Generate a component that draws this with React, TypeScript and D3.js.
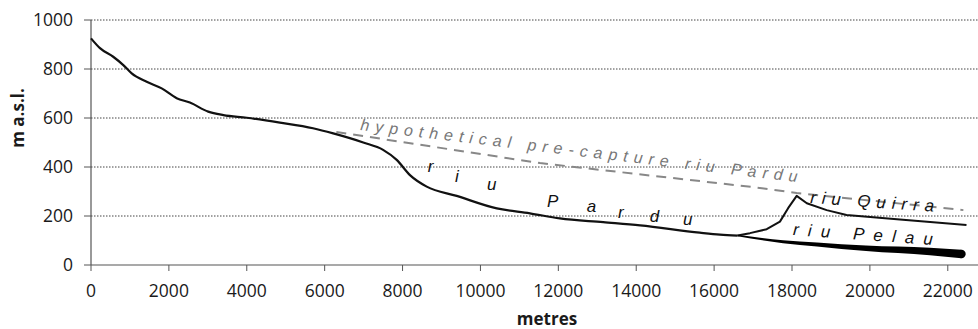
import React from 'react';
import * as d3 from 'd3';

// main profile (riu Pardu), metres vs m a.s.l.
const parduX = [0, 230, 570, 830, 1045, 1430, 1815, 2200, 2540, 3010, 3400, 4000, 4850, 5700, 6220, 6990, 7500, 7850, 8190, 8620, 9390, 10420, 11270, 12040, 13150, 14100, 15630, 16150, 16600];
const parduY = [925, 885, 850, 816, 782, 748, 721, 681, 663, 626, 612, 601, 581, 558, 537, 500, 470, 429, 367, 320, 282, 231, 211, 190, 175, 162, 132, 124, 120];

const quirraX = [16600, 16920, 17350, 17690, 17900, 18120, 18380, 18890, 19400, 20770, 22480];
const quirraY = [120, 130, 146, 177, 232, 282, 252, 224, 204, 186, 163];

const pelauX = [16600, 17770, 18640, 19900, 21540, 22350];
const pelauY = [120, 95, 84, 68, 55, 45];

const hypoX = [6300, 11530, 17000, 18120, 22400];
const hypoY = [543, 416, 318, 294, 224];

const xTicks = [0, 2000, 4000, 6000, 8000, 10000, 12000, 14000, 16000, 18000, 20000, 22000];
const yTicks = [0, 200, 400, 600, 800, 1000];

// letters of "riu Pardu" spread along the river
const pardLetters = ['r', 'i', 'u', 'P', 'a', 'r', 'd', 'u'];
const pardLetterX = [8650, 9345, 10170, 11710, 12730, 13530, 14350, 15200];
const pardLetterY = [380, 339, 306, 237, 216, 192, 176, 163];

const W = 978;
const H = 329;

const zip = (xs: number[], ys: number[]) => xs.map((x, i) => [x, ys[i]] as [number, number]);

export default function App() {
  const x = d3.scaleLinear().domain([0, 22750]).range([91, 977]);
  const y = d3.scaleLinear().domain([0, 1000]).range([265, 20]);

  const line = d3
    .line<[number, number]>()
    .x((d) => x(d[0]))
    .y((d) => y(d[1]));
  const smooth = d3
    .line<[number, number]>()
    .x((d) => x(d[0]))
    .y((d) => y(d[1]))
    .curve(d3.curveMonotoneX);

  // Pelau drawn as a tapering band
  const width = d3.scaleLinear().domain([16600, 22350]).range([1.5, 8.5]);
  const pelauArea = d3
    .area<[number, number]>()
    .x((d) => x(d[0]))
    .y0((d) => y(d[1]) - width(d[0]) / 2)
    .y1((d) => y(d[1]) + width(d[0]) / 2)
    .curve(d3.curveMonotoneX);
  const pelau = zip(pelauX, pelauY);
  const pelauEnd = pelau[pelau.length - 1];

  const tickFont = '"Open Sans", sans-serif';
  const annFont = '"Liberation Sans", Arial, sans-serif';

  return (
    <svg width={W} height={H} style={{ position: 'absolute', left: 0, top: 0, background: '#fff' }}>
      {/* grid */}
      {yTicks.filter((t) => t > 0).map((t) => (
        <line key={t} x1={x(0)} x2={W} y1={y(t)} y2={y(t)} stroke="#444" strokeWidth={1} strokeDasharray="1.5,1.5" />
      ))}

      {/* axes */}
      <line x1={x(0)} x2={x(0)} y1={y(1000)} y2={y(0)} stroke="#555" strokeWidth={1.2} />
      <line x1={x(0)} x2={W} y1={y(0)} y2={y(0)} stroke="#555" strokeWidth={1.2} />
      {yTicks.map((t) => (
        <g key={t}>
          <line x1={x(0) - 7} x2={x(0)} y1={y(t)} y2={y(t)} stroke="#555" />
          <text x={73} y={y(t)} dy="0.35em" textAnchor="end" fontFamily={tickFont} fontSize={17.5} fill="#1a1a1a">
            {t}
          </text>
        </g>
      ))}
      {xTicks.map((t) => (
        <g key={t}>
          <line x1={x(t)} x2={x(t)} y1={y(0)} y2={y(0) + 6} stroke="#555" />
          <text x={x(t)} y={297} textAnchor="middle" fontFamily={tickFont} fontSize={17.5} fill="#1a1a1a">
            {t}
          </text>
        </g>
      ))}
      <text x={547} y={325} textAnchor="middle" fontFamily={tickFont} fontWeight="bold" fontSize={17} fill="#1a1a1a">
        metres
      </text>
      <text transform="translate(24,118) rotate(-90)" textAnchor="middle" fontFamily={tickFont} fontWeight="bold" fontSize={17} fill="#1a1a1a">
        m a.s.l.
      </text>

      {/* hypothetical pre-capture course */}
      <path d={line(zip(hypoX, hypoY)) || ''} fill="none" stroke="#888" strokeWidth={2} strokeDasharray="10,7" />

      {/* rivers */}
      <path d={smooth(zip(parduX, parduY)) || ''} fill="none" stroke="#111" strokeWidth={2.2} strokeLinejoin="round" />
      <path d={line(zip(quirraX, quirraY)) || ''} fill="none" stroke="#111" strokeWidth={2} strokeLinejoin="round" />
      <path d={pelauArea(pelau) || ''} fill="#000" />
      <circle cx={x(pelauEnd[0])} cy={y(pelauEnd[1])} r={width(pelauEnd[0]) / 2} fill="#000" />

      {/* labels */}
      <text
        transform={`translate(${x(6906)},${y(551)}) rotate(6.8)`}
        fontFamily={annFont}
        fontStyle="italic"
        fontSize={16}
        fill="#777"
        textLength={440}
        lengthAdjust="spacing"
      >
        hypothetical pre-capture riu Pardu
      </text>
      {pardLetters.map((c, i) => (
        <text key={i} x={x(pardLetterX[i])} y={y(pardLetterY[i])} fontFamily={annFont} fontStyle="italic" fontSize={17} fill="#111">
          {c}
        </text>
      ))}
      <text
        transform={`translate(${x(18460)},${y(253)}) rotate(4)`}
        fontFamily={annFont}
        fontStyle="italic"
        fontSize={17}
        fill="#111"
        textLength={124}
        lengthAdjust="spacing"
      >
        riu Quirra
      </text>
      <text
        transform={`translate(${x(18020)},${y(122)}) rotate(4)`}
        fontFamily={annFont}
        fontStyle="italic"
        fontSize={17}
        fill="#111"
        textLength={140}
        lengthAdjust="spacing"
      >
        riu Pelau
      </text>
    </svg>
  );
}
